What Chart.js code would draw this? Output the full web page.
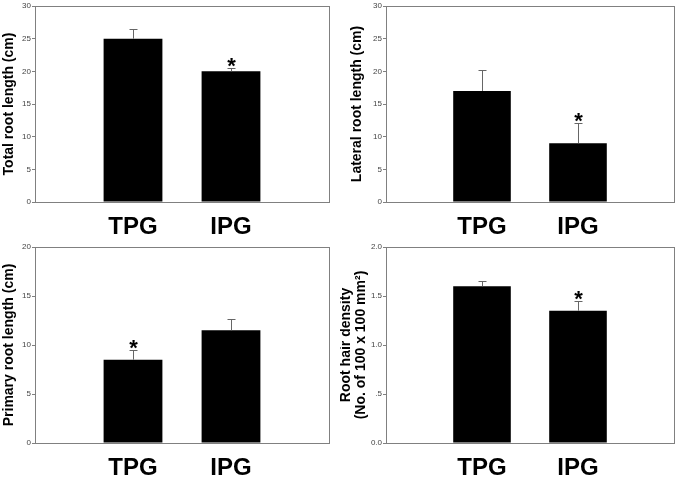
<!DOCTYPE html>
<html>
<head>
<meta charset="utf-8">
<script src="https://cdn.jsdelivr.net/npm/chart.js"></script>
<style>
body { margin: 0; background: #fff; }
.panel { position: absolute; }
</style>
</head>
<body>
<div class="panel" style="left:0;top:0"><canvas id="total" width="340" height="240"></canvas></div>
<div class="panel" style="left:340px;top:0"><canvas id="lateral" width="345" height="240"></canvas></div>
<div class="panel" style="left:0;top:240px"><canvas id="primary" width="340" height="238"></canvas></div>
<div class="panel" style="left:340px;top:240px"><canvas id="hair" width="345" height="238"></canvas></div>
<script>
var groups = ['TPG', 'IPG'];

// means and upper error bars
var totalMeans = [25, 20];
var totalErr = [1.5, 0.5];
var totalStar = [false, true];

var lateralMeans = [17, 9];
var lateralErr = [3.2, 3.1];
var lateralStar = [false, true];

var primaryMeans = [8.5, 11.5];
var primaryErr = [1.0, 1.2];
var primaryStar = [true, false];

var hairMeans = [1.6, 1.35];
var hairErr = [0.05, 0.1];
var hairStar = [false, true];

var hairTickLabels = ['0.0', '.5', '1.0', '1.5', '2.0'];

var fam = '"Liberation Sans", Arial, sans-serif';

// frame, error bars and stars
var extras = {
	id: 'extras',
	afterDatasetsDraw: function (chart, args, o) {
		var ctx = chart.ctx;
		var xs = chart.scales.x, ys = chart.scales.y;
		var means = o.means, errs = o.errs, stars = o.stars;
		ctx.save();
		for (var i = 0; i < means.length; i++) {
			var x = Math.round(xs.getPixelForValue(i + 1)) + 0.5;
			var yb = ys.getPixelForValue(means[i]);
			var yt = Math.round(ys.getPixelForValue(means[i] + errs[i])) + 0.5;
			ctx.strokeStyle = '#666';
			ctx.lineWidth = 1;
			ctx.beginPath();
			ctx.moveTo(x, yb);
			ctx.lineTo(x, yt);
			ctx.moveTo(x - 4, yt);
			ctx.lineTo(x + 4, yt);
			ctx.stroke();
			if (stars[i]) {
				ctx.fillStyle = '#000';
				ctx.font = 'bold 22px ' + fam;
				ctx.textAlign = 'center';
				ctx.textBaseline = 'alphabetic';
				ctx.fillText('*', x, yt + 4);
			}
		}
		var a = chart.chartArea;
		ctx.strokeStyle = '#808080';
		ctx.lineWidth = 1;
		ctx.strokeRect(Math.round(a.left) + 0.5, Math.round(a.top) + 0.5, Math.round(a.right - a.left), Math.round(a.bottom - a.top));
		ctx.restore();
	}
};

function panel(id, means, errs, stars, max, step, title, yw, xh, pad, titlePad, tickCb) {
	var ctx = document.getElementById(id).getContext('2d');
	return new Chart(ctx, {
		type: 'bar',
		data: {
			labels: [''].concat(groups, ['']),
			datasets: [{
				data: [null].concat(means, [null]),
				backgroundColor: '#000',
				borderWidth: 0,
				barPercentage: 0.6,
				categoryPercentage: 1
			}]
		},
		options: {
			responsive: false,
			animation: false,
			layout: { padding: pad },
			plugins: {
				legend: { display: false },
				tooltip: { enabled: false },
				extras: { means: means, errs: errs, stars: stars }
			},
			scales: {
				x: {
					offset: false,
					grid: { display: false, drawTicks: false },
					border: { display: false },
					ticks: {
						autoSkip: false, maxRotation: 0, padding: 11,
						color: '#000', font: { family: fam, size: 24, weight: 'bold' }
					},
					afterFit: function (s) { s.height = xh; }
				},
				y: {
					min: 0, max: max,
					grid: { drawOnChartArea: false, tickLength: 3, color: '#808080' },
					border: { display: false },
					ticks: {
						stepSize: step, padding: 1, color: '#444',
						font: { family: fam, size: 8 },
						callback: tickCb
					},
					title: {
						display: true, text: title, color: '#000',
						padding: { top: titlePad, bottom: 0 },
						font: { family: fam, size: 14, weight: 'bold', lineHeight: 1.1 }
					},
					afterFit: function (s) { s.width = yw; }
				}
			}
		},
		plugins: [extras]
	});
}

panel('total', totalMeans, totalErr, totalStar, 30, 5, 'Total root length (cm)', 35, 38, { top: 6, right: 8 }, 1);
panel('lateral', lateralMeans, lateralErr, lateralStar, 30, 5, 'Lateral root length (cm)', 46, 38, { top: 6, right: 3 }, 9);
panel('primary', primaryMeans, primaryErr, primaryStar, 20, 5, 'Primary root length (cm)', 35, 35, { top: 7, right: 10 }, 1);
panel('hair', hairMeans, hairErr, hairStar, 2, 0.5, ['Root hair density', '(No. of 100 x 100 mm\u00b2)'], 46, 35, { top: 7, right: 3 }, -2,
	function (v, i) { return hairTickLabels[i]; });
</script>
</body>
</html>
